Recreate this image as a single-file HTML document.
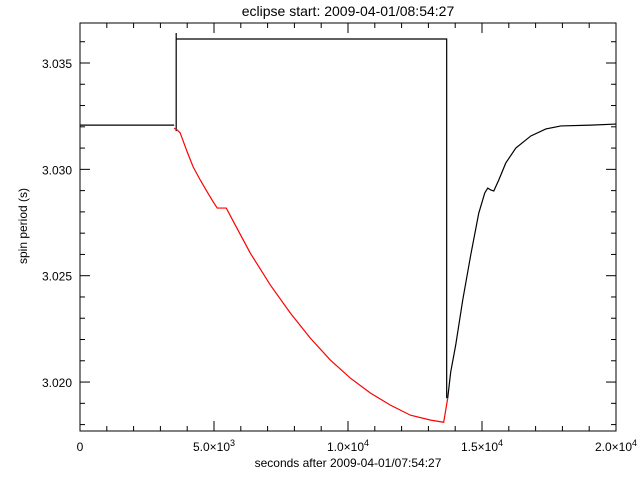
<!DOCTYPE html>
<html><head><meta charset="utf-8"><style>
body{margin:0;background:#fff}
svg text{font-family:"Liberation Sans",sans-serif;fill:#000}
</style></head><body>
<svg id="chart" width="640" height="480" xmlns="http://www.w3.org/2000/svg"></svg>
<script>
const flatT=[0,3514];
const flatV=[3.03208,3.03208];
const stepT=[3589,3589,3589,13682,13682];
const stepV=[3.0318,3.03641,3.03613,3.03613,3.01924];
const redT=[3514,3626,3738,4000,4224,4486,4747,4972,5121,5458,5794,6355,7103,7850,8598,9346,10093,10841,11589,12336,13084,13570,13720];
const redV=[3.03194,3.03185,3.03171,3.03082,3.03011,3.0295,3.02894,3.02847,3.02818,3.02818,3.02738,3.02606,3.02456,3.02324,3.02206,3.02103,3.02018,3.01948,3.01891,3.01844,3.01821,3.01811,3.01924];
const recT=[13720,13832,14019,14280,14579,14879,15103,15215,15327,15439,15626,15888,16262,16822,17383,17944,19065,20000];
const recV=[3.01924,3.02047,3.02174,3.02385,3.02597,3.02794,3.02889,3.02912,3.02903,3.02898,3.0295,3.0303,3.031,3.03157,3.0319,3.03204,3.03208,3.03213];
const xTickVals=[0,5000,10000,15000,20000];
const xTickLabels=["0","5.0×10","1.0×10","1.5×10","2.0×10"];
const xTickExp=["","3","4","4","4"];
const yTickVals=[3.020,3.025,3.030,3.035];
const yTickLabels=["3.020","3.025","3.030","3.035"];

const L=80,R=616,T=23,B=431;
const xs=t=>L+(t-0)/20000*(R-L);
const ys=v=>63+(3.035-v)/0.001*21.27;
const svg=document.getElementById('chart');
const NS='http://www.w3.org/2000/svg';
function mk(tag,attrs,parent){const e=document.createElementNS(NS,tag);for(const k in attrs)e.setAttribute(k,attrs[k]);(parent||svg).appendChild(e);return e;}

const frame=mk('rect',{x:L,y:T,width:R-L,height:B-T,fill:'none',stroke:'#000','stroke-width':1});



const ticks=mk('g',{stroke:'#000','stroke-width':1});


for(let t=0;t<=20000;t+=1000){
  const x=xs(t),len=(t%5000===0)?10:5;
  mk('line',{x1:x,y1:B,x2:x,y2:B-len},ticks);
  mk('line',{x1:x,y1:T,x2:x,y2:T+len},ticks);
}
for(let v=3.018;v<=3.0366;v+=0.001){
  const vv=Math.round(v*1000)/1000;
  const y=ys(vv);if(y<T||y>B)continue;
  const len=(Math.round(vv*1000)%5===0)?10:5;
  mk('line',{x1:L,y1:y,x2:L+len,y2:y},ticks);
  mk('line',{x1:R,y1:y,x2:R-len,y2:y},ticks);
}
xTickVals.forEach((t,i)=>{
  const tx=mk('text',{x:xs(t),y:451,'font-size':12,'text-anchor':'middle'});
  
  
  tx.textContent=xTickLabels[i];
  if(xTickExp[i]){const s=mk('tspan',{dy:-5,'font-size':9},tx);s.textContent=xTickExp[i];}
});
yTickVals.forEach((v,i)=>{
  const tx=mk('text',{x:72,y:ys(v)+5,'font-size':12,'text-anchor':'end'});
  
  
  tx.textContent=yTickLabels[i];
});
function line(T_,V_,color,name){
  const p=mk('polyline',{points:T_.map((t,i)=>xs(t)+','+ys(V_[i])).join(' '),fill:'none',stroke:color,'stroke-width':1.2});
  
  
}
line(flatT,flatV,'#000','pre-eclipse-line');
line(stepT,stepV,'#000','eclipse-step-line');
line(recT,recV,'#000','recovery-line');
line(redT,redV,'#f00','eclipse-model-line');

const title=mk('text',{x:348,y:16,'font-size':14,'text-anchor':'middle'});


title.textContent='eclipse start: 2009-04-01/08:54:27';
const xt=mk('text',{x:348,y:467,'font-size':12,'text-anchor':'middle'});


xt.textContent='seconds after 2009-04-01/07:54:27';
const yt=mk('text',{x:0,y:0,'font-size':12,'text-anchor':'middle',transform:'translate(27,226) rotate(-90)'});


yt.textContent='spin period (s)';
</script>
</body></html>
